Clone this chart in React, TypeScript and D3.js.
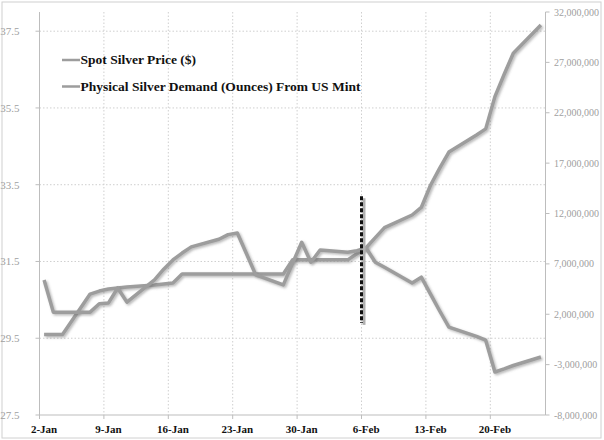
import React from "react";
import * as d3 from "d3";

// ---- data ----
const dates = [
  "2013-01-02", "2013-01-03", "2013-01-04", "2013-01-07", "2013-01-08", "2013-01-09", "2013-01-10", "2013-01-11",
  "2013-01-14", "2013-01-15", "2013-01-16", "2013-01-17", "2013-01-18", "2013-01-21", "2013-01-22", "2013-01-23",
  "2013-01-24", "2013-01-25", "2013-01-28", "2013-01-29", "2013-01-30", "2013-01-31", "2013-02-01", "2013-02-04",
  "2013-02-05", "2013-02-06", "2013-02-07", "2013-02-08", "2013-02-11", "2013-02-12", "2013-02-13", "2013-02-14",
  "2013-02-15", "2013-02-18", "2013-02-19", "2013-02-20", "2013-02-21", "2013-02-22", "2013-02-25",
];
const spotSilverPrice = [
  31.02, 30.18, 30.18, 30.18, 30.4, 30.42, 30.81, 30.44,
  31.02, 31.3, 31.54, 31.72, 31.88, 32.08, 32.2, 32.24,
  31.7, 31.15, 30.89, 31.45, 32.0, 31.48, 31.8, 31.74,
  31.78, 31.85, 31.48, 31.35, 30.94, 31.09, 30.65, 30.21,
  29.79, 29.55, 29.45, 28.62, 28.7, 28.79, 29.01,
];
const mintDemandOunces = [
  0, 0, 0, 4000000, 4300000, 4500000, 4600000, 4700000,
  4900000, 5000000, 5100000, 6000000, 6000000, 6000000, 6000000, 6000000,
  6000000, 6000000, 6000000, 7400000, 7400000, 7400000, 7400000, 7400000,
  8000000, 8600000, 9600000, 10600000, 11850000, 12600000, 14800000, 16500000,
  18100000, 19800000, 20400000, 23600000, 25800000, 27900000, 30700000,
];
const seriesNames = ["Spot Silver Price ($)", "Physical Silver Demand (Ounces) From US Mint"];
const leftTicks = [27.5, 29.5, 31.5, 33.5, 35.5, 37.5];
const rightTicks = [-8000000, -3000000, 2000000, 7000000, 12000000, 17000000, 22000000, 27000000, 32000000];
const xTickDates = ["2013-01-02", "2013-01-09", "2013-01-16", "2013-01-23", "2013-01-30", "2013-02-06", "2013-02-13", "2013-02-20"];
const xTickLabels = ["2-Jan", "9-Jan", "16-Jan", "23-Jan", "30-Jan", "6-Feb", "13-Feb", "20-Feb"];
const markerDate = "2013-02-06";
const markerRange = [29.9, 33.2];

const parse = d3.utcParse("%Y-%m-%d");
const HALF_DAY = 12 * 3600 * 1000;

export default function App() {
  const W = 604;
  const H = 440;
  const left = 39.5;
  const right = 545.5;
  const top = 12;
  const bottom = 415;

  const x = d3.scaleUtc().domain([parse("2013-01-02")!, parse("2013-02-26")!]).range([left, right]);
  const yL = d3.scaleLinear().domain([27.5, 38]).range([bottom, top]);
  const yR = d3.scaleLinear().domain([-8000000, 32000000]).range([bottom, top]);
  const xc = (s: string) => x(new Date(parse(s)!.getTime() + HALF_DAY));

  const silverPts = dates.map((d, i) => [xc(d), yL(spotSilverPrice[i])] as [number, number]);
  const demandPts = dates.map((d, i) => [xc(d), yR(mintDemandOunces[i])] as [number, number]);
  const line = d3.line();

  const fmtR = (v: number) => d3.format(",")(v).replace("\u2212", "-");
  const fmtL = d3.format(".1f");

  const lineColor = "#9d9d9d";
  const serif = "Liberation Serif, Times New Roman, DejaVu Serif, serif";
  const mx = x(parse(markerDate)!);

  return (
    <svg width={W} height={H} style={{ position: "absolute", left: 0, top: 0, background: "#fff", fontFamily: serif }}>
      <defs>
        <filter id="shadow" x="-5%" y="-5%" width="110%" height="110%">
          <feDropShadow dx="1.5" dy="1.5" stdDeviation="1" floodColor="#666" floodOpacity="0.45" />
        </filter>
      </defs>
      <rect x={0} y={0} width={W} height={H} fill="#fff" />
      <rect x={2} y={2} width={599} height={436} fill="none" stroke="#d0d0d0" strokeWidth={1} />

      {/* horizontal gridlines */}
      {leftTicks.slice(1).map((t) => (
        <line key={"hg" + t} x1={left} x2={right} y1={yL(t)} y2={yL(t)} stroke="#cfcfcf" strokeWidth={1} strokeDasharray="1.5,2" />
      ))}
      {/* vertical gridlines */}
      {xTickDates.slice(1).map((d) => (
        <line key={"vg" + d} x1={x(parse(d)!)} x2={x(parse(d)!)} y1={top} y2={bottom} stroke="#cfcfcf" strokeWidth={1} strokeDasharray="1.5,2" />
      ))}

      {/* axes */}
      <line x1={left} x2={left} y1={top} y2={bottom} stroke="#bdbdbd" />
      <line x1={right} x2={right} y1={top} y2={bottom} stroke="#bdbdbd" />
      <line x1={left} x2={right} y1={bottom} y2={bottom} stroke="#bdbdbd" />

      {leftTicks.map((t) => (
        <g key={"lt" + t}>
          <line x1={left - 4} x2={left} y1={yL(t)} y2={yL(t)} stroke="#bdbdbd" />
          <text x={19.5} y={yL(t)} dy="0.35em" textAnchor="end" fontSize={11} fill="#a0a0a0" style={{ fontFamily: serif }}>
            {fmtL(t)}
          </text>
        </g>
      ))}
      {rightTicks.map((t) => (
        <g key={"rt" + t}>
          <line x1={right} x2={right + 4} y1={yR(t)} y2={yR(t)} stroke="#bdbdbd" />
          <text x={554} y={yR(t)} dy="0.35em" textAnchor="start" fontSize={10} fill="#a0a0a0" style={{ fontFamily: serif }}>
            {fmtR(t)}
          </text>
        </g>
      ))}
      {xTickDates.map((d, i) => (
        <g key={"xt" + d}>
          <line x1={x(parse(d)!)} x2={x(parse(d)!)} y1={bottom} y2={bottom + 4} stroke="#bdbdbd" />
          <text x={xc(d)} y={433} textAnchor="middle" fontSize={11} fontWeight="bold" fill="#111" style={{ fontFamily: serif }}>
            {xTickLabels[i]}
          </text>
        </g>
      ))}

      {/* series */}
      <path d={line(demandPts) || ""} fill="none" stroke={lineColor} strokeWidth={3.5} strokeLinejoin="round" filter="url(#shadow)" />
      <path d={line(silverPts) || ""} fill="none" stroke={lineColor} strokeWidth={3.5} strokeLinejoin="round" filter="url(#shadow)" />

      {/* marker line with its shadow */}
      <line
        x1={mx + 2.5}
        x2={mx + 2.5}
        y1={yL(markerRange[1]) + 2}
        y2={yL(markerRange[0]) + 2}
        stroke="#b0b0b0"
        strokeWidth={3}
      />
      <line
        x1={mx}
        x2={mx}
        y1={yL(markerRange[1])}
        y2={yL(markerRange[0])}
        stroke="#111"
        strokeWidth={3}
        strokeDasharray="4,2"
      />

      {/* legend */}
      {seriesNames.map((n, i) => (
        <g key={n} transform={`translate(62, ${60 + i * 26.5})`}>
          <line x1={0} x2={18} y1={0} y2={0} stroke={lineColor} strokeWidth={2.5} />
          <text x={18.5} y={0} dy="0.33em" fontSize={13.5} fontWeight="bold" fill="#111" style={{ fontFamily: serif }}>
            {n}
          </text>
        </g>
      ))}
    </svg>
  );
}
